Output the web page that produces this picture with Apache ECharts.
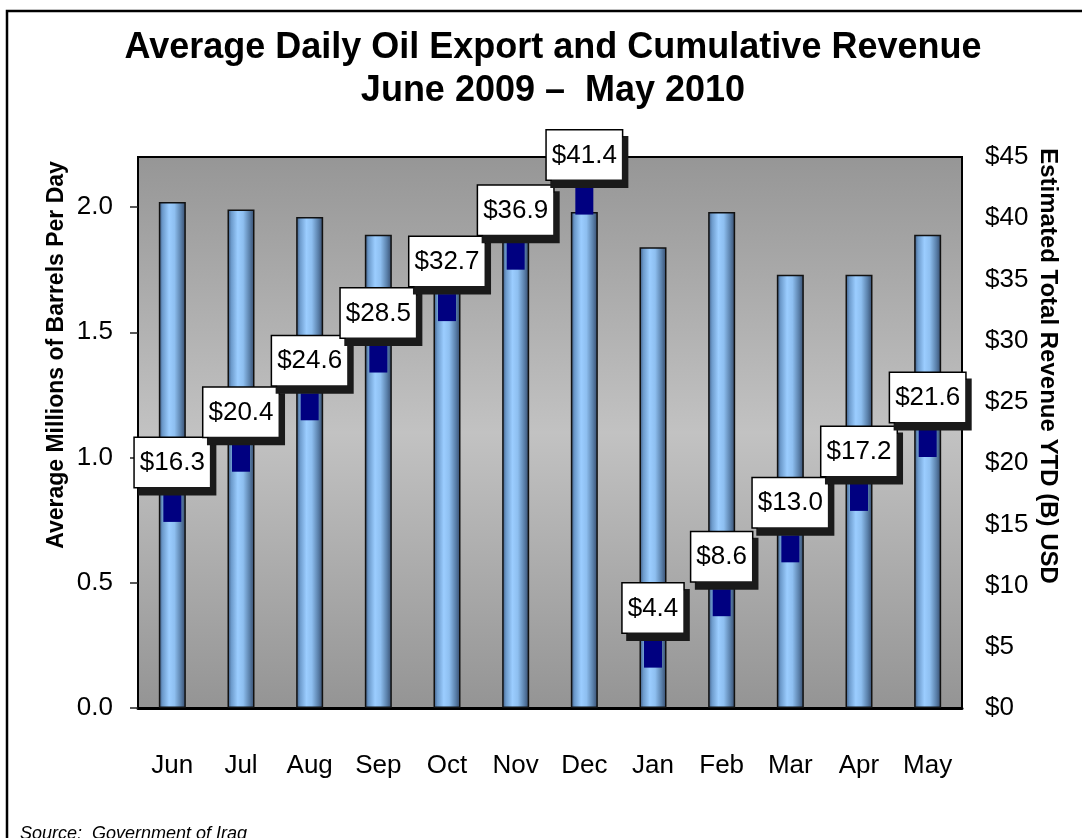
<!DOCTYPE html>
<html>
<head>
<meta charset="utf-8">
<title>Average Daily Oil Export and Cumulative Revenue</title>
<script src="https://cdn.jsdelivr.net/npm/echarts@6/dist/echarts.min.js"></script>
<style>
  html, body { margin: 0; padding: 0; background: #fff; }
  #chart { width: 1082px; height: 838px; }
</style>
</head>
<body>
<div id="chart"></div>
<script>
// months on the x axis
const categories = ['Jun', 'Jul', 'Aug', 'Sep', 'Oct', 'Nov', 'Dec', 'Jan', 'Feb', 'Mar', 'Apr', 'May']
// average millions of barrels per day (bars, left axis)
const exports = [2.02, 1.99, 1.96, 1.89, 1.86, 1.90, 1.98, 1.84, 1.98, 1.73, 1.73, 1.89]
// cumulative revenue YTD, billions USD (markers, right axis)
const revenue = [16.3, 20.4, 24.6, 28.5, 32.7, 36.9, 41.4, 4.4, 8.6, 13.0, 17.2, 21.6]

const narrow = "'Liberation Sans Narrow', 'Arial Narrow', 'Liberation Sans', Arial, sans-serif"
const sans = "'Liberation Sans', Arial, sans-serif"

const chart = echarts.init(document.getElementById('chart'))

const options = {
  animation: false,
  title: {
    text: 'Average Daily Oil Export and Cumulative Revenue\nJune 2009 \u2013  May 2010',
    left: 548,
    top: 22,
    textAlign: 'center',
    textStyle: {
      fontFamily: sans,
      fontSize: 36,
      fontWeight: 'bold',
      color: '#000',
      lineHeight: 43
    }
  },
  grid: {
    left: 138,
    right: 120,
    top: 157,
    bottom: 130,
    show: true,
    borderColor: '#000',
    borderWidth: 2,
    backgroundColor: new echarts.graphic.LinearGradient(0, 0, 0, 1, [
      { offset: 0, color: '#969696' },
      { offset: 0.5, color: '#c2c2c2' },
      { offset: 1, color: '#949494' }
    ])
  },
  xAxis: [
    {
      type: 'category',
      data: categories,
      axisLine: { lineStyle: { color: '#000', width: 3 } },
      axisTick: { length: 9, lineStyle: { color: '#222', width: 1.5 } },
      axisLabel: { margin: 45, fontFamily: narrow, fontSize: 26, color: '#000' }
    },
    {
      type: 'category',
      data: categories,
      position: 'bottom',
      axisLine: { show: false },
      axisTick: { inside: true, length: 12, lineStyle: { color: '#222', width: 1.5 } },
      axisLabel: { show: false }
    }
  ],
  yAxis: [
    {
      type: 'value',
      min: 0,
      max: 2.2,
      interval: 0.5,
      splitLine: { show: false },
      axisLine: { show: true, lineStyle: { color: '#000', width: 2 } },
      axisTick: { show: true, length: 8, lineStyle: { color: '#222', width: 1.5 } },
      axisLabel: {
        margin: 25,
        showMaxLabel: false,
        fontFamily: narrow,
        fontSize: 26,
        color: '#000',
        formatter: v => v.toFixed(1)
      }
    },
    {
      type: 'value',
      min: 0,
      max: 45,
      interval: 5,
      splitLine: { show: false },
      axisLine: { show: false },
      axisTick: { show: false },
      axisLabel: {
        margin: 23,
        fontFamily: narrow,
        fontSize: 26,
        color: '#000',
        formatter: v => '$' + v
      }
    }
  ],
  series: [
    {
      type: 'bar',
      data: exports,
      barWidth: 27,
      itemStyle: {
        borderColor: '#111',
        borderWidth: 1.5,
        color: new echarts.graphic.LinearGradient(0, 0, 1, 0, [
          { offset: 0, color: '#3a5378' },
          { offset: 0.14, color: '#6c9acb' },
          { offset: 0.38, color: '#9bcdff' },
          { offset: 0.58, color: '#8ebff0' },
          { offset: 0.82, color: '#5a80aa' },
          { offset: 1, color: '#34496a' }
        ])
      }
    },
    {
      type: 'scatter',
      yAxisIndex: 1,
      data: revenue,
      symbol: 'rect',
      symbolSize: [18, 27],
      itemStyle: { color: '#000080', opacity: 1 },
      z: 3,
      label: {
        show: true,
        position: 'top',
        distance: 8,
        formatter: p => '$' + p.value.toFixed(1),
        fontFamily: narrow,
        fontSize: 26,
        color: '#000',
        backgroundColor: '#fff',
        borderColor: '#000',
        borderWidth: 1.5,
        padding: [12, 5, 11, 5],
        shadowColor: '#1a1a1a',
        shadowBlur: 0,
        shadowOffsetX: 5,
        shadowOffsetY: 7
      }
    }
  ],
  graphic: [
    {
      type: 'rect',
      shape: { x: 7, y: 11, width: 1200, height: 900 },
      style: { fill: 'none', stroke: '#000', lineWidth: 2.5 },
      silent: true
    },
    {
      type: 'text',
      x: 57,
      y: 355,
      rotation: Math.PI / 2,
      style: {
        text: 'Average Millions of Barrels Per Day',
        font: 'bold 23px ' + sans,
        fill: '#000',
        textAlign: 'center',
        textVerticalAlign: 'middle'
      }
    },
    {
      type: 'text',
      x: 1048,
      y: 366,
      rotation: -Math.PI / 2,
      style: {
        text: 'Estimated Total Revenue YTD (B) USD',
        font: 'bold 24px ' + sans,
        fill: '#000',
        textAlign: 'center',
        textVerticalAlign: 'middle'
      }
    },
    {
      type: 'text',
      x: 20,
      y: 825,
      style: {
        text: 'Source:  Government of Iraq',
        font: 'italic 18px ' + sans,
        fill: '#000',
        textAlign: 'left',
        textVerticalAlign: 'top'
      }
    }
  ]
}

chart.setOption(options)
window.addEventListener('resize', () => {
  chart.resize()
})
</script>
</body>
</html>
